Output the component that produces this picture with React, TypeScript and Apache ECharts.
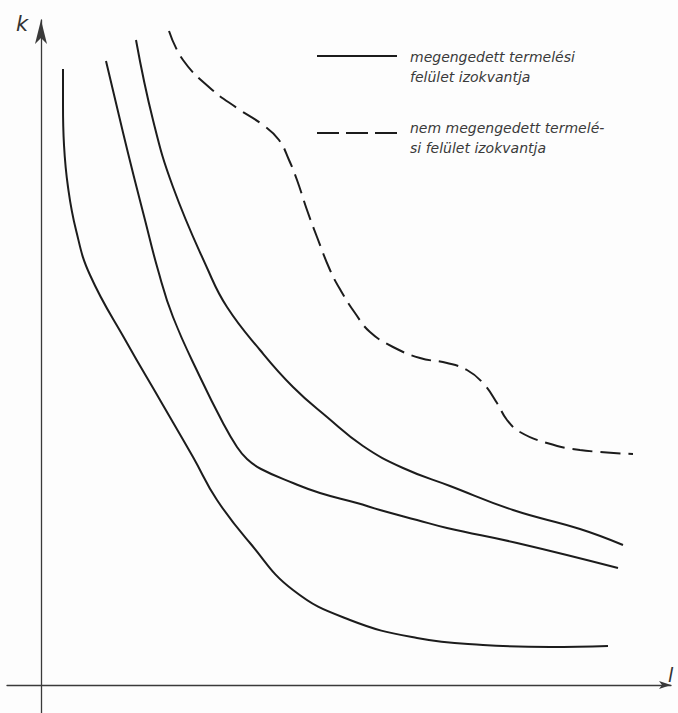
import React, { useEffect, useRef } from "react";
import * as echarts from "echarts";

// Data coordinates: x = labour (l), y = capital (k)
const curve1: [number, number][] = [
  [22, 616], [22, 580], [23, 540], [27, 498], [35, 455], [49, 410],
  [86, 342], [119, 285], [152, 228], [176, 185], [209, 142], [252, 95],
  [309, 65], [376, 47], [442, 40], [509, 38], [567, 39],
];
const curve2: [number, number][] = [
  [65, 624], [87, 532], [104, 465], [117, 415], [132, 368], [159, 308],
  [182, 262], [196, 238], [206, 226], [220, 216], [252, 202], [279, 192],
  [316, 182], [339, 175], [376, 165], [406, 157], [476, 142], [577, 117],
];
const curve3: [number, number][] = [
  [95, 645], [112, 565], [132, 498], [167, 415], [186, 378], [219, 335],
  [252, 298], [286, 268], [322, 239], [362, 217], [409, 199], [472, 175],
  [539, 156], [582, 140],
];
const dashedCurve: [number, number][] = [
  [128, 654], [142, 625], [169, 597], [196, 577], [222, 560], [238, 545],
  [248, 525], [256, 505], [266, 475], [276, 448], [289, 415], [300, 394],
  [314, 372], [329, 353], [352, 338], [379, 327], [406, 322], [426, 315],
  [442, 302], [456, 282], [466, 265], [479, 253], [506, 242], [539, 235], [592, 231],
];

const legendSolid = ["megengedett termelési", "felület izokvantja"];
const legendDashed = ["nem megengedett termelé-", "si felület izokvantja"];
const axisNames = { x: "l", y: "k" };

const INK = "#1c1c1c";
const FONT = "'DejaVu Sans', sans-serif";

export default function App() {
  const ref = useRef<HTMLDivElement>(null);
  useEffect(() => {
    document.body.style.margin = "0";
    if (!ref.current) return;
    const chart = echarts.init(ref.current, undefined, { renderer: "svg" });
    const mk = (name: string, data: [number, number][], dashed = false) => ({
      type: "line",
      name,
      data,
      smooth: 0.45,
      symbol: "none",
      lineStyle: dashed
        ? { color: INK, width: 2, type: [20, 8] }
        : { color: INK, width: 2 },
      silent: true,
    });
    const legendText = (lines: string[], y: number) =>
      lines.map((t, i) => ({
        type: "text",
        left: 410,
        top: y + i * 20,
        style: {
          text: t,
          fill: "#3a3a3a",
          font: `italic 14px ${FONT}`,
        },
      }));
    chart.setOption({
      animation: false,
      backgroundColor: "#fdfdfd",
      grid: { left: 7, right: 7, top: 20, bottom: 0 },
      xAxis: {
        type: "value",
        min: -34,
        max: 630,
        axisLine: {
          onZero: true,
          lineStyle: { color: "#3a3a3a", width: 1.3 },
          symbol: ["none", "arrow"],
          symbolSize: [6, 12],
        },
        axisTick: { show: false },
        axisLabel: { show: false },
        splitLine: { show: false },
      },
      yAxis: {
        type: "value",
        min: -28,
        max: 665,
        axisLine: {
          onZero: true,
          lineStyle: { color: "#3a3a3a", width: 1.3 },
          symbol: ["none", "arrow"],
          symbolSize: [9, 24],
        },
        axisTick: { show: false },
        axisLabel: { show: false },
        splitLine: { show: false },
      },
      series: [
        mk("megengedett termelési felület izokvantja 1", curve1),
        mk("megengedett termelési felület izokvantja 2", curve2),
        mk("megengedett termelési felület izokvantja 3", curve3),
        mk("nem megengedett termelési felület izokvantja", dashedCurve, true),
      ],
      graphic: [
        {
          type: "line",
          shape: { x1: 317, y1: 56, x2: 397, y2: 56 },
          style: { stroke: INK, lineWidth: 2 },
        },
        {
          type: "line",
          shape: { x1: 317, y1: 133, x2: 397, y2: 133 },
          style: { stroke: INK, lineWidth: 2, lineDash: [22, 7] },
        },
        ...legendText(legendSolid, 50),
        ...legendText(legendDashed, 121),
        {
          type: "text",
          left: 16,
          top: 13,
          style: { text: axisNames.y, fill: "#333", font: `italic 21px ${FONT}` },
        },
        {
          type: "text",
          left: 668,
          top: 665,
          style: { text: axisNames.x, fill: "#333", font: `italic 19px ${FONT}` },
        },
      ],
    });
    return () => chart.dispose();
  }, []);
  return (
    <div
      ref={ref}
      style={{ position: "absolute", left: 0, top: 0, width: 678, height: 713 }}
    />
  );
}
